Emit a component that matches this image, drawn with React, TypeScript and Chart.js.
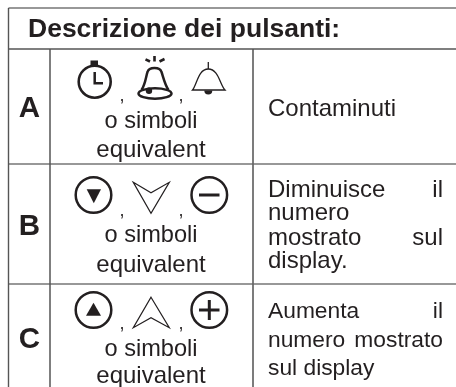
import React, { useEffect, useRef } from "react";
import { Chart, registerables } from "chart.js";

Chart.register(...registerables);

// Table content
const headerTitle = "Descrizione dei pulsanti:";
const rowLetters = ["A", "B", "C"];
const symbolNoteFirst = "o simboli";
const symbolNoteSecond = "equivalent";
const descriptionA = [["Contaminuti"]];
const descriptionB = [["Diminuisce", "il"], ["numero"], ["mostrato", "sul"], ["display."]];
const descriptionC = [["Aumenta", "il"], ["numero", "mostrato"], ["sul display"]];
const descriptions = [descriptionA, descriptionB, descriptionC];

// Layout
const W = 456;
const H = 387;
const columnEdges = [8.5, 50, 253];
const headerEdges = [8, 49];
const rowEdges = [164, 284];
const letterBaselines = [117, 235, 348];
const noteBaselines = [[128, 157], [242, 272], [356, 383]];
const descriptionBaselines = [[116], [197, 220, 245, 268], [318, 347, 375]];
const descriptionFonts = ["24px", "24px", "22.8px"];
const commaRows = [101, 216, 329];
const TEXT_FONT = "Liberation Sans, Arial, sans-serif";
const INK = "#231f20";

const tablePlugin = {
  id: "tableContent",
  afterDatasetsDraw(chart: any) {
    const { ctx, scales } = chart;
    const X = (v: number) => scales.x.getPixelForValue(v);
    const Y = (v: number) => scales.y.getPixelForValue(v);
    ctx.save();
    ctx.fillStyle = INK;
    ctx.strokeStyle = INK;
    ctx.textBaseline = "alphabetic";
    ctx.lineCap = "butt";

    const text = (s: string, x: number, y: number, font: string, align: CanvasTextAlign = "left") => {
      ctx.font = `${font} ${TEXT_FONT}`;
      ctx.textAlign = align;
      ctx.fillText(s, X(x), Y(y));
    };
    const circle = (x: number, y: number, r: number, lw: number) => {
      ctx.lineWidth = lw;
      ctx.beginPath();
      ctx.arc(X(x), Y(y), r, 0, Math.PI * 2);
      ctx.stroke();
    };
    const poly = (pts: number[][], lw: number, close = false, fill = false) => {
      ctx.lineWidth = lw;
      ctx.beginPath();
      pts.forEach((p, i) => (i ? ctx.lineTo(X(p[0]), Y(p[1])) : ctx.moveTo(X(p[0]), Y(p[1]))));
      if (close) ctx.closePath();
      if (fill) ctx.fill();
      else ctx.stroke();
    };

    text(headerTitle, 28, 37, "bold 26.5px");

    rowLetters.forEach((l, i) => {
      text(l, 29.5, letterBaselines[i], "bold 29.5px", "center");
      text(symbolNoteFirst, 151, noteBaselines[i][0], "23.6px", "center");
      text(symbolNoteSecond, 151, noteBaselines[i][1], "24px", "center");
      text(",", 122, commaRows[i], "18px", "center");
      text(",", 181, commaRows[i], "18px", "center");
      descriptions[i].forEach((words, j) => {
        const y = descriptionBaselines[i][j];
        text(words[0], 268, y, descriptionFonts[i]);
        if (words[1]) text(words[1], 443, y, descriptionFonts[i], "right");
      });
    });

    // Row A: timer
    circle(94.7, 81.7, 16, 2.6);
    ctx.fillRect(X(90.5), Y(60.5), 7.5, 5.5);
    poly([[94.7, 72], [94.7, 83.3], [103, 83.3]], 2.5);

    // Row A: ringing bell
    poly([[145.5, 59.3], [150, 61.5]], 2.6);
    poly([[154.5, 56], [154.5, 61.5]], 2.6);
    poly([[159.5, 61.5], [164.5, 59]], 2.6);
    ctx.lineWidth = 2.5;
    ctx.beginPath();
    ctx.moveTo(X(141.5), Y(90));
    ctx.bezierCurveTo(X(145.5), Y(84), X(146), Y(76), X(147.5), Y(72));
    ctx.bezierCurveTo(X(149), Y(66.5), X(160), Y(66.5), X(161.5), Y(72));
    ctx.bezierCurveTo(X(163), Y(76), X(164.5), Y(84), X(168.5), Y(90));
    ctx.stroke();
    ctx.beginPath();
    ctx.ellipse(X(155), Y(93.5), 16.5, 5.2, 0, 0, Math.PI * 2);
    ctx.stroke();
    ctx.beginPath();
    ctx.arc(X(149), Y(90.7), 3.2, 0, Math.PI * 2);
    ctx.fill();

    // Row A: plain bell
    poly([[208.3, 62], [208.3, 69]], 1.3);
    ctx.lineWidth = 1.3;
    ctx.beginPath();
    ctx.moveTo(X(192.5), Y(90));
    ctx.bezierCurveTo(X(197), Y(85), X(198), Y(69), X(208.3), Y(69));
    ctx.bezierCurveTo(X(218.5), Y(69), X(220), Y(85), X(225), Y(90));
    ctx.closePath();
    ctx.stroke();
    ctx.beginPath();
    ctx.arc(X(208.3), Y(90.5), 4, 0, Math.PI);
    ctx.fill();

    // Row B
    circle(93.5, 195, 17.8, 2.5);
    poly([[86.7, 189.3], [101, 189.3], [93.8, 203.3]], 1, true, true);
    poly([[133.3, 182.3], [151, 192.7], [169.3, 182.3], [151, 213.3]], 1.2, true);
    circle(209.3, 195, 17.8, 2.5);
    poly([[199, 195], [219.5, 195]], 3);

    // Row C
    circle(93.5, 310, 17.8, 2.5);
    poly([[86, 315.7], [101, 315.7], [93.5, 302.7]], 1, true, true);
    poly([[151, 297.3], [169.3, 327.7], [151, 317.7], [133.3, 327.7]], 1.2, true);
    circle(209.3, 310, 17.8, 2.5);
    poly([[199, 310], [219.5, 310]], 3);
    poly([[209.3, 300], [209.3, 320]], 3);

    ctx.restore();
  },
};

const rule = (pts: number[][], color: string, width: number) => ({
  type: "scatter" as const,
  data: pts.map(([x, y]) => ({ x, y })),
  showLine: true,
  borderColor: color,
  borderWidth: width,
  pointRadius: 0,
});

export default function App() {
  const ref = useRef<HTMLCanvasElement>(null);
  useEffect(() => {
    document.body.style.margin = "0";
    document.body.style.background = "#ffffff";
    const [left, letterEdge, symbolEdge] = columnEdges;
    const [top, headerBottom] = headerEdges;
    const chart = new Chart(ref.current!, {
      type: "scatter",
      data: {
        datasets: [
          rule([[left, top], [W, top]], "#333333", 1.2),
          rule([[left, headerBottom], [W, headerBottom]], "#555555", 1.6),
          rule([[left, top], [left, H]], "#555555", 1.4),
          rule([[letterEdge, headerBottom], [letterEdge, H]], "#555555", 1.5),
          rule([[symbolEdge, headerBottom], [symbolEdge, H]], "#666666", 1.7),
          ...rowEdges.map((y) => rule([[left, y], [W, y]], "#333333", 1.2)),
        ],
      },
      options: {
        animation: false,
        responsive: false,
        layout: { padding: 0 },
        plugins: { legend: { display: false }, tooltip: { enabled: false }, title: { display: false } },
        scales: {
          x: { type: "linear", display: false, min: 0, max: W },
          y: { type: "linear", display: false, min: 0, max: H, reverse: true },
        },
      },
      plugins: [tablePlugin],
    } as any);
    return () => chart.destroy();
  }, []);
  return <canvas ref={ref} width={W} height={H} style={{ display: "block" }} />;
}
